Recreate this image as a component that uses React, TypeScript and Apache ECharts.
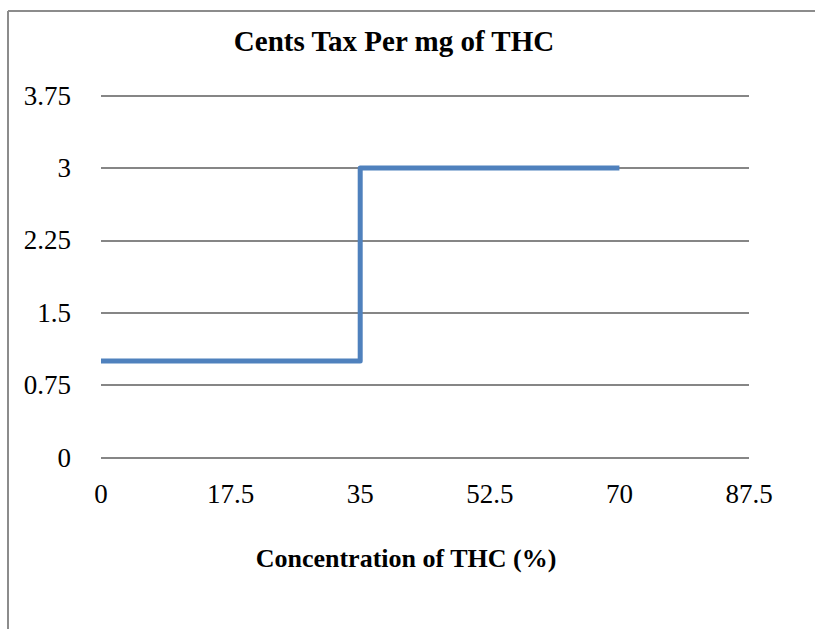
import React, { useEffect, useRef } from "react";
import * as echarts from "echarts";

const chartTitle = "Cents Tax Per mg of THC";
const xAxisTitle = "Concentration of THC (%)";
const concentration = [0, 35, 35, 70];
const centsPerMg = [1, 1, 3, 3];
const xTicks = { min: 0, max: 87.5, interval: 17.5 };
const yTicks = { min: 0, max: 3.75, interval: 0.75 };

const FONT = "'Liberation Serif', 'DejaVu Serif', serif";

export default function App() {
  const ref = useRef<HTMLDivElement>(null);
  useEffect(() => {
    if (!ref.current) return;
    const chart = echarts.init(ref.current, null, { renderer: "svg" });
    chart.setOption({
      animation: false,
      backgroundColor: "#ffffff",
      grid: { left: 101, right: 66, top: 95.5, bottom: 171.5, containLabel: false },
      xAxis: {
        type: "value",
        min: xTicks.min,
        max: xTicks.max,
        interval: xTicks.interval,
        axisLine: { show: false },
        axisTick: { show: false },
        splitLine: { show: false },
        axisLabel: {
          margin: 23,
          fontFamily: FONT,
          fontSize: 27,
          color: "#000",
          formatter: (v: number) => String(v),
        },
      },
      yAxis: {
        type: "value",
        min: yTicks.min,
        max: yTicks.max,
        interval: yTicks.interval,
        axisLine: { show: false },
        axisTick: { show: false },
        splitLine: { show: true, lineStyle: { color: "#868686", width: 2 } },
        axisLabel: {
          margin: 30,
          fontFamily: FONT,
          fontSize: 27,
          color: "#000",
          formatter: (v: number) => String(v),
        },
      },
      series: [
        {
          type: "line",
          data: concentration.map((x, i) => [x, centsPerMg[i]]),
          symbol: "none",
          lineStyle: { color: "#4F81BD", width: 5, join: "round", cap: "butt" },
          itemStyle: { color: "#4F81BD" },
        },
      ],
      graphic: [
        {
          type: "line",
          shape: { x1: 8, y1: 11, x2: 815, y2: 11 },
          style: { stroke: "#8c8c8c", lineWidth: 2 },
        },
        {
          type: "line",
          shape: { x1: 8, y1: 11, x2: 8, y2: 629 },
          style: { stroke: "#8c8c8c", lineWidth: 2 },
        },
        {
          type: "text",
          x: 394,
          y: 41,
          style: {
            text: chartTitle,
            fontFamily: FONT,
            fontWeight: "bold",
            fontSize: 29,
            fill: "#000",
            textAlign: "center",
            textVerticalAlign: "middle",
          },
        },
        {
          type: "text",
          x: 406,
          y: 558,
          style: {
            text: xAxisTitle,
            fontFamily: FONT,
            fontWeight: "bold",
            fontSize: 26,
            fill: "#000",
            textAlign: "center",
            textVerticalAlign: "middle",
          },
        },
      ],
    });
    return () => chart.dispose();
  }, []);
  return (
    <div
      ref={ref}
      style={{ position: "fixed", left: 0, top: 0, width: 815, height: 629 }}
    />
  );
}
